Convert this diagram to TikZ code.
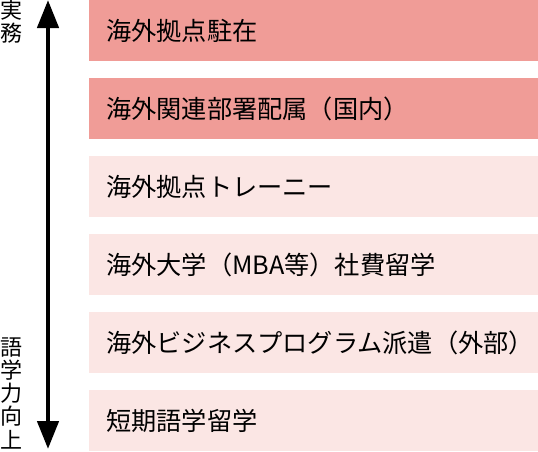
\documentclass[tikz,border=0pt]{standalone}
\usepackage{fontspec}
\setmainfont{Noto Sans CJK JP}
\usetikzlibrary{positioning, arrows.meta}
\definecolor{darkpink}{HTML}{F09C97}
\definecolor{lightpink}{HTML}{FBE6E4}

\begin{document}
\begin{tikzpicture}[x=1pt, y=1pt, node distance=78pt,
	every node/.style={inner sep=0pt},
	item/.style={anchor=north west, minimum height=60.5pt, text width=415pt, inner xsep=17pt, align=left, font=\fontsize{25.2}{28}\selectfont},
	side/.style={align=center, font=\fontsize{22}{23.2}\selectfont}]
		\useasboundingbox (0,0) rectangle (538,-451);
		\node[item, fill=darkpink] (1) at (89,0) {海外拠点駐在};
		\node[item, fill=darkpink] (2) [below of=1] {海外関連部署配属（国内）};
		\node[item, fill=lightpink] (3) [below of=2] {海外拠点トレーニー};
		\node[item, fill=lightpink] (4) [below of=3] {海外大学（MBA等）社費留学};
		\node[item, fill=lightpink] (5) [below of=4] {海外ビジネスプログラム派遣（外部）};
		\node[item, fill=lightpink] (6) [below of=5] {短期語学留学};
		
		\node[side, anchor=north west] (work) at (0,0) {実\\務};
		\node[side, anchor=south west] (lang) at (0,-449) {語\\学\\力\\向\\上};
		
		\coordinate (top) at (48,0);
		\coordinate (bottom) at (48,-449);
		\draw[line width=4.5pt, {Triangle[width=21pt,length=28pt]}-{Triangle[width=21pt,length=28pt]}] (bottom) -- (top);
	\end{tikzpicture}
\end{document}
